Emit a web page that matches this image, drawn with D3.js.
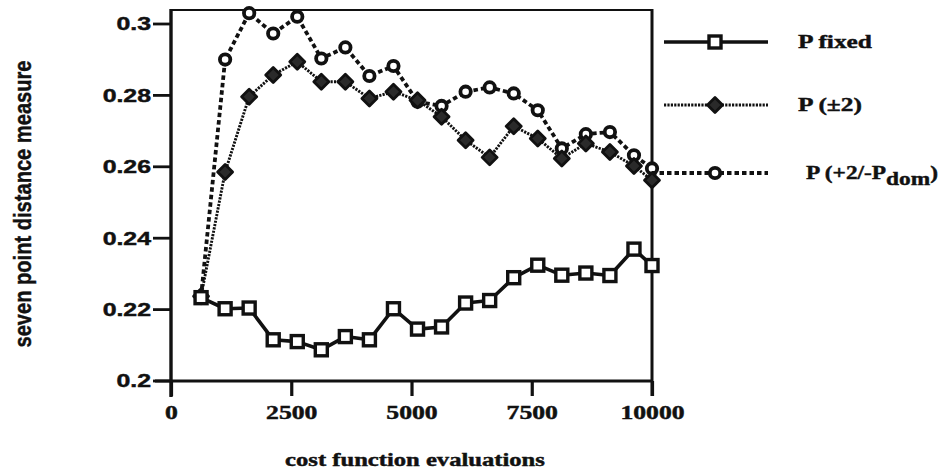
<!DOCTYPE html>
<html>
<head>
<meta charset="utf-8">
<script src="https://cdn.jsdelivr.net/npm/d3@7"></script>
<style>
  html, body { margin: 0; padding: 0; background: #fff; }
  svg { display: block; }
  text { stroke: #111; stroke-width: 0.45px; }
</style>
</head>
<body>
<svg id="chart" width="945" height="472"></svg>
<script>
// Cost function evaluations at which the distance was sampled
const evaluations = [625, 1125, 1625, 2125, 2625, 3125, 3625, 4125, 4625, 5125,
                     5625, 6125, 6625, 7125, 7625, 8125, 8625, 9125, 9625, 10000];

// Seven point distance measure for each strategy
const pFixed = [0.2232, 0.2201, 0.2203, 0.2114, 0.2109, 0.2086, 0.2123, 0.2114, 0.2201, 0.2144,
                0.2150, 0.2217, 0.2224, 0.2288, 0.2323, 0.2295, 0.2301, 0.2294, 0.2368, 0.2322];
const pPlus2 = [0.2236, 0.2584, 0.2795, 0.2856, 0.2893, 0.2837, 0.2837, 0.2790, 0.2809, 0.2785,
                0.2739, 0.2673, 0.2625, 0.2712, 0.2678, 0.2622, 0.2664, 0.2640, 0.2601, 0.2561];
const pPlus2Dom = [0.2236, 0.2899, 0.3029, 0.2972, 0.3019, 0.2902, 0.2933, 0.2853, 0.2881, 0.2781,
                   0.2769, 0.2809, 0.2821, 0.2804, 0.2757, 0.2650, 0.2690, 0.2696, 0.2631, 0.2594];

const xTicks = [0, 2500, 5000, 7500, 10000];
const yTicks = [0.2, 0.22, 0.24, 0.26, 0.28, 0.3];
const yTickLabels = ["0.2", "0.22", "0.24", "0.26", "0.28", "0.3"];

const svg = d3.select("#chart");
const plotLeft = 171, plotRight = 652, plotTop = 10, plotBottom = 381;

const x = d3.scaleLinear().domain([0, 10000]).range([plotLeft, plotRight]);
const y = d3.scaleLinear().domain([0.2, 0.3]).range([380.5, 23.5]);

const serif = "'Liberation Serif', 'Times New Roman', serif";
const sans = "'Liberation Sans', Arial, sans-serif";
const ink = "#111";

// Widen a text element horizontally, like the wide lettering of the figure
function widen(sel, factor, maxLen) {
  sel.each(function () {
    let len = this.getComputedTextLength() * factor;
    if (maxLen) len = Math.min(len, maxLen);
    d3.select(this).attr("textLength", len).attr("lengthAdjust", "spacingAndGlyphs");
  });
  return sel;
}

// Frame
svg.append("line").attr("x1", plotLeft).attr("x2", plotRight).attr("y1", plotTop).attr("y2", plotTop)
  .attr("stroke", ink).attr("stroke-width", 2.2);
svg.append("line").attr("x1", plotRight).attr("x2", plotRight).attr("y1", plotTop - 1).attr("y2", plotBottom + 15)
  .attr("stroke", ink).attr("stroke-width", 3);

// Axes
const yAxis = d3.axisLeft(y).tickValues(yTicks).tickFormat((d, i) => yTickLabels[i])
  .tickSize(18).tickPadding(2).tickSizeOuter(0);
const gy = svg.append("g").attr("transform", `translate(${plotLeft},0)`).call(yAxis);
gy.select(".domain").remove();
gy.append("line").attr("x1", 0).attr("x2", 0).attr("y1", plotTop - 1).attr("y2", plotBottom + 16)
  .attr("stroke", ink).attr("stroke-width", 3.4);
gy.selectAll(".tick line").attr("stroke", ink).attr("stroke-width", 2.8);
gy.selectAll(".tick text").attr("font-family", sans).attr("font-weight", "bold")
  .attr("font-size", 18).attr("fill", ink).attr("dy", "0.36em")
  .call(widen, 1.38);

const xAxis = d3.axisBottom(x).tickValues(xTicks).tickFormat(d3.format("d"))
  .tickSize(15).tickPadding(10).tickSizeOuter(0);
const gx = svg.append("g").attr("transform", `translate(0,${plotBottom})`).call(xAxis);
gx.select(".domain").remove();
gx.append("line").attr("x1", plotLeft - 16).attr("x2", plotRight).attr("y1", 0).attr("y2", 0)
  .attr("stroke", ink).attr("stroke-width", 3.2);
gx.selectAll(".tick line").attr("stroke", ink).attr("stroke-width", 3.2);
gx.selectAll(".tick text").attr("font-family", serif).attr("font-weight", "bold")
  .attr("font-size", 19).attr("fill", ink)
  .call(widen, 1.35);

// Axis titles
svg.append("text")
  .attr("transform", `translate(31,204) rotate(-90)`)
  .attr("text-anchor", "middle")
  .attr("font-family", "'Liberation Sans Narrow', " + sans)
  .attr("font-weight", "bold").attr("font-size", 23).attr("fill", ink)
  .attr("textLength", 287).attr("lengthAdjust", "spacingAndGlyphs")
  .text("seven point distance measure");

svg.append("text")
  .attr("x", 415).attr("y", 466)
  .attr("text-anchor", "middle")
  .attr("font-family", serif).attr("font-weight", "bold").attr("font-size", 18.5).attr("fill", ink)
  .text("cost function evaluations")
  .call(widen, 1.33);

// Series
const series = [
  { name: "fixed", values: pFixed, width: 3.6, dash: null, marker: "square" },
  { name: "plus2", values: pPlus2, width: 2.9, dash: "2.2,1.2", marker: "diamond" },
  { name: "plus2dom", values: pPlus2Dom, width: 3.8, dash: "4.5,3", marker: "circle" }
];

const line = d3.line().x(d => x(d[0])).y(d => y(d[1]));

function drawMarker(g, kind, cx, cy) {
  if (kind === "square") {
    g.append("rect").attr("x", cx - 6).attr("y", cy - 6).attr("width", 12).attr("height", 12)
      .attr("fill", "#fff").attr("stroke", ink).attr("stroke-width", 3.4);
  } else if (kind === "diamond") {
    const s = 7.5;
    g.append("path").attr("d", `M${cx},${cy - s}L${cx + s},${cy}L${cx},${cy + s}L${cx - s},${cy}Z`)
      .attr("fill", "#2a2a2a").attr("stroke", ink).attr("stroke-width", 2.8)
      .attr("stroke-linejoin", "round");
  } else {
    g.append("circle").attr("cx", cx).attr("cy", cy).attr("r", 5.2)
      .attr("fill", "#fff").attr("stroke", ink).attr("stroke-width", 3.8);
  }
}

// Draw from back to front so the squares sit on top near the shared start
[series[2], series[1], series[0]].forEach(s => {
  const pts = evaluations.map((e, i) => [e, s.values[i]]);
  svg.append("path").datum(pts).attr("d", line)
    .attr("fill", "none").attr("stroke", ink).attr("stroke-width", s.width)
    .attr("stroke-dasharray", s.dash).attr("stroke-linejoin", "round");
  const g = svg.append("g");
  pts.forEach(p => drawMarker(g, s.marker, x(p[0]), y(p[1])));
});

// Legend
const legendRows = [
  { s: series[0], y: 42, x1: 664, tx: 798, label: [["P fixed", null]] },
  { s: series[1], y: 105, x1: 664, tx: 798, label: [["P (±2)", null]] },
  { s: series[2], y: 173, x1: 652, tx: 806, label: [["P (+2/-P", null], ["dom", "sub"], [")", "up"]] }
];
legendRows.forEach(r => {
  svg.append("line").attr("x1", r.x1).attr("x2", 768).attr("y1", r.y).attr("y2", r.y)
    .attr("stroke", ink).attr("stroke-width", r.s.width).attr("stroke-dasharray", r.s.dash);
  drawMarker(svg, r.s.marker, 715, r.y);
  const t = svg.append("text").attr("x", r.tx).attr("y", r.y + 6)
    .attr("font-family", serif).attr("font-weight", "bold").attr("font-size", 19.5).attr("fill", ink);
  r.label.forEach(([txt, kind]) => {
    const ts = t.append("tspan").text(txt);
    if (kind === "sub") ts.attr("dy", 6);
    if (kind === "up") ts.attr("dy", -6);
  });
  widen(t, 1.3, 938 - r.tx);
});
</script>
</body>
</html>
